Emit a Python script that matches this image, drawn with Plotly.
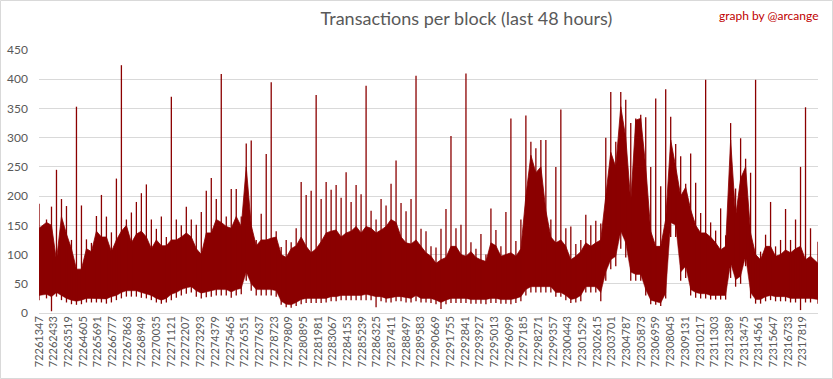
import numpy as np
import plotly.graph_objects as go

# ---------------- data ----------------
FIRST_BLOCK = 72261347
N_BLOCKS = 57600          # 48 hours of blocks
TICK_STEP = 1086

# per segment (156 equal segments of the block range)
top_vals = [145,155,150,90,165,135,110,75,75,110,
            105,140,130,130,105,125,140,150,120,135,
            140,130,110,125,115,115,125,125,130,137,
            130,110,100,137,137,160,155,148,145,165,
            148,250,150,115,125,125,128,130,100,95,
            110,115,130,114,103,110,122,137,140,142,
            130,137,140,148,137,148,145,137,142,148,
            160,155,130,120,118,125,114,103,97,85,
            91,95,114,114,100,97,105,95,91,88,
            120,115,97,100,103,97,110,200,270,240,
            250,175,130,120,125,114,91,97,105,120,
            114,120,125,200,275,250,353,300,190,330,
            333,250,140,114,114,160,296,250,200,215,
            177,150,137,137,130,120,108,114,296,165,
            230,250,137,100,91,114,114,97,100,108,
            103,110,114,91,97,85]

low_vals = [30,32,28,35,30,25,22,20,22,25,
            25,25,25,24,28,30,35,38,38,38,
            35,33,30,25,22,25,32,35,40,43,
            45,38,34,36,38,40,40,40,36,40,
            42,70,50,40,40,40,40,38,20,15,
            14,18,23,25,25,25,25,25,28,28,
            30,30,30,30,30,32,30,28,28,25,
            26,28,28,26,25,30,25,25,25,22,
            18,22,25,25,25,25,23,23,23,23,
            25,25,23,23,23,25,28,40,45,45,
            45,45,45,35,35,30,23,25,30,45,
            45,45,35,70,91,97,140,120,70,66,
            66,40,22,20,17,34,155,150,70,80,
            40,35,33,33,30,30,30,30,85,57,
            63,97,35,23,23,28,30,28,28,28,
            25,25,25,25,25,23]

peak_vals = [187,160,182,245,195,183,125,353,184,126,
             120,166,202,165,138,230,424,160,172,190,
             205,220,160,144,165,130,370,160,150,182,
             160,151,173,209,231,195,409,165,212,212,
             165,290,295,125,170,272,395,140,113,125,
             121,145,224,202,209,373,195,224,211,219,
             197,241,190,219,203,389,175,160,195,184,
             221,261,188,174,195,406,144,140,114,112,
             144,178,303,145,151,410,121,110,135,100,
             179,142,114,173,333,123,160,338,293,282,
             296,296,160,250,348,145,148,118,125,168,
             150,158,153,300,378,293,378,365,325,333,
             339,335,250,367,217,383,336,289,268,221,
             273,223,171,399,155,141,179,133,325,213,
             299,264,240,399,105,134,190,114,125,178,
             125,160,250,352,145,122]

trough_vals = [22,25,3,28,22,18,15,14,15,18,
               18,18,18,16,18,22,25,28,28,28,
               26,25,22,18,16,18,22,26,30,33,
               35,28,25,27,28,30,30,30,26,30,
               32,55,38,30,30,30,30,28,14,10,
               9,12,15,17,17,17,17,18,20,20,
               22,22,22,22,22,22,22,10,20,18,
               18,20,20,18,18,20,18,18,17,15,
               7,15,17,17,17,17,16,16,16,15,
               17,17,16,16,15,17,20,30,35,35,
               35,35,35,28,28,22,17,18,20,35,
               35,35,20,55,75,80,110,95,55,55,
               55,30,15,14,12,25,130,130,55,60,
               30,26,25,25,23,23,23,23,60,45,
               50,80,25,16,16,20,22,20,20,20,
               18,18,5,18,18,16]

tick_blocks = [FIRST_BLOCK + i * TICK_STEP for i in range(53)]
tick_labels = [str(b) for b in tick_blocks]

# ---------------- figure ----------------
RED = "#8B0000"
GRAY = "#595959"
n = len(top_vals)
seg = N_BLOCKS / n
xc = FIRST_BLOCK + (np.arange(n) + 0.5) * seg
xc[0] = FIRST_BLOCK
xc[-1] = FIRST_BLOCK + N_BLOCKS - 1

fig = go.Figure()
fig.add_trace(go.Scatter(x=xc, y=low_vals, mode="lines",
                         line=dict(width=0.5, color=RED),
                         hoverinfo="skip", showlegend=False))
fig.add_trace(go.Scatter(x=xc, y=top_vals, mode="lines", fill="tonexty",
                         fillcolor=RED, line=dict(width=0.8, color=RED),
                         showlegend=False))

sx, sy = [], []
for x, lo, hi in zip(xc, trough_vals, peak_vals):
    sx += [x, x, None]
    sy += [lo, hi, None]
fig.add_trace(go.Scatter(x=sx, y=sy, mode="lines",
                         line=dict(width=1.3, color=RED), showlegend=False,
                         hoverinfo="skip"))

W, H = 833, 379
L, R, T, B = 39, 15, 50, 66
pw, ph = W - L - R, H - T - B

fig.update_layout(
    width=W, height=H,
    margin=dict(l=L, r=R, t=T, b=B),
    paper_bgcolor="white", plot_bgcolor="white",
    font=dict(family="Lato, Open Sans, sans-serif", color=GRAY),
    title=dict(text="Transactions per block (last 48 hours)",
               x=0.56, xanchor="center", y=1 - 19 / H, yanchor="middle",
               font=dict(size=18, color=GRAY, family="Lato, Open Sans, sans-serif")),
    xaxis=dict(range=[FIRST_BLOCK - 0.5, FIRST_BLOCK + N_BLOCKS - 0.5],
               tickmode="array", tickvals=tick_blocks, ticktext=tick_labels,
               tickangle=-90, tickfont=dict(size=11, color=GRAY),
               showgrid=False, zeroline=False, showline=False, ticks="",
               automargin=False),
    yaxis=dict(range=[0, 450], dtick=50, tick0=0, showgrid=True,
               gridcolor="#d9d9d9", gridwidth=1, zeroline=True,
               zerolinecolor="#d9d9d9", zerolinewidth=1, showline=False,
               tickfont=dict(size=12, color=GRAY), ticklabelstandoff=10,
               automargin=False),
    annotations=[dict(text="graph by @arcange", xref="paper", yref="paper",
                      x=(821 - L) / pw, xanchor="right",
                      y=(H - B - 15) / ph, yanchor="middle", showarrow=False,
                      font=dict(size=12, color="#C00000",
                                family="Lato, Open Sans, sans-serif"))],
    shapes=[dict(type="rect", xref="paper", yref="paper",
                 x0=(0.5 - L) / pw, x1=(W - 0.5 - L) / pw,
                 y0=(H - B - (H - 0.5)) / ph, y1=(H - B - 0.5) / ph,
                 line=dict(color="#d9d9d9", width=1), layer="below")],
)

fig.write_html("out.html",
               config={"displayModeBar": False},
               post_script="document.body.style.margin='0px';"
                           "document.body.style.overflow='hidden';")
